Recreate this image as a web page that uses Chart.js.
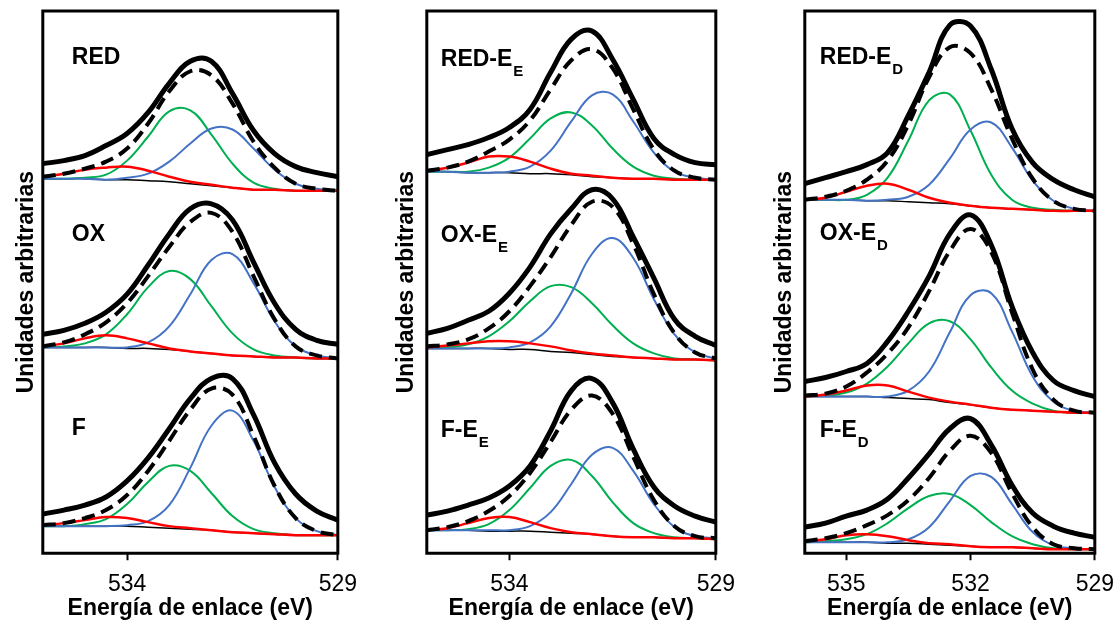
<!DOCTYPE html>
<html>
<head>
<meta charset="utf-8">
<title>O 1s</title>
<script src="https://cdn.jsdelivr.net/npm/chart.js@4.4.1/dist/chart.umd.min.js"></script>
<style>
  html, body { margin: 0; padding: 0; background: #fff; overflow: hidden; }
  body { width: 1118px; height: 623px; position: relative; }
  canvas { position: absolute; top: 0; }
</style>
</head>
<body>
<canvas id="p1" width="368" height="623" style="left:0px"></canvas>
<canvas id="p2" width="366" height="623" style="left:380px"></canvas>
<canvas id="p3" width="365" height="623" style="left:760px"></canvas>
<script>
// binding energy grid (eV), shared by every curve
var energy = [536, 535.5, 535, 534.5, 534, 533.5, 533, 532.5, 532, 531.5, 531, 530.5, 530, 529.5, 529];

var ticksA = [534, 529];
var ticksB = [535, 532, 529];

// intensities are stacked offsets (arb. units), raw / fit / background / components
// panel 1
var redRaw = [388,391,396,406,418,439,468,490,490,458,421,398,385,379,375];
var redFit = [375,378,383,390,403,428,460,480,476,448,410,384,368,363,361];
var redBg  = [373,373,373,372,372,371,370,368,366,364,362,362,361,361,361];
var redC1  = [373,373,374,377,391,415,440,441,417,388,369,363,361,361,361];
var redC2  = [373,373,373,372,374,378,390,408,423,422,403,382,368,363,361];
var redC3  = [375,378,382,384,385,381,375,370,367,364,362,362,361,361,361];

var oxRaw = [218,222,229,240,258,287,318,343,348,332,290,249,223,212,208];
var oxFit = [206,210,218,230,249,276,305,330,339,320,276,233,206,197,194];
var oxBg  = [205,205,205,205,204,204,203,201,199,197,196,195,195,194,194];
var oxC1  = [205,206,209,218,238,265,281,273,246,219,203,197,195,194,194];
var oxC2  = [205,205,205,205,205,210,226,258,292,298,269,231,206,197,194];
var oxC3  = [206,209,214,217,214,209,204,201,199,197,196,195,195,194,194];

var fRaw = [39,43,48,56,72,95,124,154,174,174,138,90,59,42,33];
var fFit = [28,30,35,43,58,82,112,143,164,158,117,67,35,22,18];
var fBg  = [27,27,27,27,27,26,25,24,23,21,20,19,18,18,18];
var fC1  = [27,27,29,34,49,71,87,82,60,37,24,20,18,18,18];
var fC2  = [27,27,27,27,28,32,48,85,127,142,112,66,35,22,18];
var fC3  = [28,30,33,36,35,31,27,25,23,21,20,19,18,18,18];

// panel 2
var redEERaw = [397,402,407,414,424,442,479,512,520,492,452,413,397,389,387];
var redEEFit = [381,384,390,400,412,431,462,491,502,483,442,402,381,374,372];
var redEEBg  = [380,380,379,379,379,378,378,377,375,374,373,373,372,372,372];
var redEEC1  = [380,380,380,384,394,413,433,439,426,403,385,376,373,372,372];
var redEEC2  = [380,380,379,379,380,385,401,430,456,457,430,399,380,374,372];
var redEEC3  = [381,384,389,395,395,390,383,378,376,374,373,373,372,372,372];

var oxEERaw = [219,224,232,241,259,285,318,343,362,353,315,274,233,216,207];
var oxEEFit = [206,208,213,224,241,266,295,327,350,345,308,258,219,200,194];
var oxEEBg  = [204,204,204,204,203,203,201,200,198,196,195,194,193,193,192];
var oxEEC1  = [205,205,208,216,231,251,266,265,249,227,209,199,194,193,192];
var oxEEC2  = [204,204,204,204,205,210,226,259,298,314,294,253,218,200,194];
var oxEEC3  = [205,207,209,211,211,209,206,202,199,197,195,194,193,193,192];

var fEERaw = [38,42,48,55,67,87,122,162,174,150,104,66,47,37,31];
var fEEFit = [23,26,32,42,57,80,111,143,157,139,96,53,27,17,15];
var fEEBg  = [23,23,23,22,22,22,21,20,19,17,16,16,15,15,14];
var fEEC1  = [23,23,24,29,43,65,87,93,77,51,30,20,16,15,14];
var fEEC2  = [23,23,23,23,23,27,41,69,98,105,82,49,26,17,15];
var fEEC3  = [23,25,30,35,36,31,25,21,19,17,16,16,15,15,14];

// panel 3
var redEDRaw = [368,374,380,387,399,436,479,526,525,482,423,389,372,362,355];
var redEDFit = [352,355,361,372,391,427,474,504,498,462,413,373,351,343,341];
var redEDBg  = [352,352,352,351,351,350,349,348,346,344,343,342,341,341,341];
var redEDC1  = [352,352,352,357,374,411,451,457,421,377,352,344,342,341,341];
var redEDC2  = [352,352,352,351,352,355,367,393,422,429,404,371,351,343,341];
var redEDC3  = [352,354,360,366,368,362,354,349,346,344,343,342,341,341,341];

var oxEDRaw = [171,175,181,189,211,241,276,318,337,307,246,200,172,162,156];
var oxEDFit = [157,159,166,180,199,225,261,301,323,300,240,183,153,142,140];
var oxEDBg  = [156,156,156,156,155,154,153,150,148,145,143,142,141,140,140];
var oxEDC1  = [156,157,160,169,186,209,229,231,213,185,162,149,142,140,140];
var oxEDC2  = [156,156,156,156,156,162,181,220,257,259,221,176,151,142,140];
var oxEDC3  = [156,158,162,167,167,161,155,151,148,145,143,142,141,140,140];

var fEDRaw = [26,30,37,43,54,75,99,124,134,108,68,40,27,20,16];
var fEDFit = [12,15,20,28,38,53,75,102,117,100,60,26,9,5,4];
var fEDBg  = [11,11,11,11,10,10,9,8,7,6,6,5,4,4,4];
var fEDC1  = [11,12,14,19,30,45,57,59,48,31,17,9,5,4,4];
var fEDC2  = [11,11,11,11,11,14,26,52,77,76,49,21,8,5,4];
var fEDC3  = [12,14,18,19,17,13,10,9,7,6,6,5,4,4,4];

var FONT = '"Liberation Sans", Arial, sans-serif';
Chart.defaults.font.family = FONT;
Chart.defaults.color = '#000';

function pts(arr) {
  return energy.map(function (e, i) { return { x: e, y: arr[i] }; });
}

function line(arr, color, width, dash) {
  return {
    data: pts(arr),
    borderColor: color,
    borderWidth: width,
    borderDash: dash || [],
    pointRadius: 0,
    tension: 0.4,
    fill: false
  };
}

// one spectrum = raw, fit envelope, three components, background
function spectrum(raw, fit, c1, c2, c3, bg) {
  return [
    line(raw, '#000000', 5),
    line(fit, '#000000', 4, [13, 7]),
    line(c3, '#FF0000', 2.5),
    line(c2, '#4472C4', 2),
    line(c1, '#00B050', 2),
    line(bg, '#000000', 1.5)
  ];
}

// frame round the plot and the sample names
var frameAndTags = {
  id: 'frameAndTags',
  afterDatasetsDraw: function (chart, args, opts) {
    var ctx = chart.ctx, a = chart.chartArea;
    ctx.save();
    ctx.lineWidth = 3;
    ctx.strokeStyle = '#000';
    ctx.strokeRect(a.left, a.top, a.right - a.left, a.bottom - a.top);
    ctx.fillStyle = '#000';
    opts.tags.forEach(function (t, i) {
      var x = a.left + opts.dx, y = opts.ys[i];
      ctx.font = 'bold 23px ' + FONT;
      ctx.textBaseline = 'middle';
      ctx.fillText(t[0], x, y);
      if (t[1]) {
        var w = ctx.measureText(t[0]).width;
        ctx.font = 'bold 15px ' + FONT;
        ctx.textBaseline = 'alphabetic';
        ctx.fillText(t[1], x + w + 1, y + 16);
      }
    });
    ctx.restore();
  }
};

function panel(id, datasets, tickVals, padLeft, titleGap, tags, dx, ys) {
  new Chart(document.getElementById(id), {
    type: 'line',
    data: { datasets: datasets },
    options: {
      responsive: false,
      animation: false,
      layout: { padding: { left: padLeft, right: 22, top: 11, bottom: 0 } },
      plugins: {
        legend: { display: false },
        tooltip: { enabled: false },
        frameAndTags: { tags: tags, dx: dx, ys: ys }
      },
      scales: {
        x: {
          type: 'linear',
          reverse: true,
          min: 529,
          max: 536,
          afterBuildTicks: function (s) {
            s.ticks = tickVals.map(function (v) { return { value: v }; });
          },
          ticks: {
            color: '#000',
            padding: 11,
            maxRotation: 0,
            autoSkip: false,
            font: { size: 23, lineHeight: 1.15 },
            callback: function (v) { return String(v); }
          },
          grid: {
            drawOnChartArea: false,
            drawTicks: true,
            tickLength: 7,
            tickColor: '#000',
            tickWidth: 2,
            color: '#000'
          },
          border: { display: false },
          title: {
            display: true,
            text: 'Energía de enlace (eV)',
            color: '#000',
            font: { size: 23, weight: 'bold', lineHeight: 1.1 },
            padding: { top: -13, bottom: 2 }
          }
        },
        y: {
          min: 0,
          max: 540,
          ticks: { display: false },
          grid: { display: false, drawTicks: false },
          border: { display: false },
          title: {
            display: true,
            text: 'Unidades arbitrarias',
            color: '#000',
            font: { size: 23, weight: 'bold', lineHeight: 1.1 },
            padding: { top: 0, bottom: titleGap }
          }
        }
      }
    },
    plugins: [frameAndTags]
  });
}

panel('p1',
  [].concat(
    spectrum(redRaw, redFit, redC1, redC2, redC3, redBg),
    spectrum(oxRaw, oxFit, oxC1, oxC2, oxC3, oxBg),
    spectrum(fRaw, fFit, fC1, fC2, fC3, fBg)),
  ticksA, 14, 3.5,
  [['RED'], ['OX'], ['F']], 29, [58, 235, 429]);

panel('p2',
  [].concat(
    spectrum(redEERaw, redEEFit, redEEC1, redEEC2, redEEC3, redEEBg),
    spectrum(oxEERaw, oxEEFit, oxEEC1, oxEEC2, oxEEC3, oxEEBg),
    spectrum(fEERaw, fEEFit, fEEC1, fEEC2, fEEC3, fEEBg)),
  ticksA, 14, 7.5,
  [['RED-E', 'E'], ['OX-E', 'E'], ['F-E', 'E']], 14, [60, 236, 431]);

panel('p3',
  [].concat(
    spectrum(redEDRaw, redEDFit, redEDC1, redEDC2, redEDC3, redEDBg),
    spectrum(oxEDRaw, oxEDFit, oxEDC1, oxEDC2, oxEDC3, oxEDBg),
    spectrum(fEDRaw, fEDFit, fEDC1, fEDC2, fEDC3, fEDBg)),
  ticksB, 12, 7.5,
  [['RED-E', 'D'], ['OX-E', 'D'], ['F-E', 'D']], 15, [58, 234, 431]);
</script>
</body>
</html>
